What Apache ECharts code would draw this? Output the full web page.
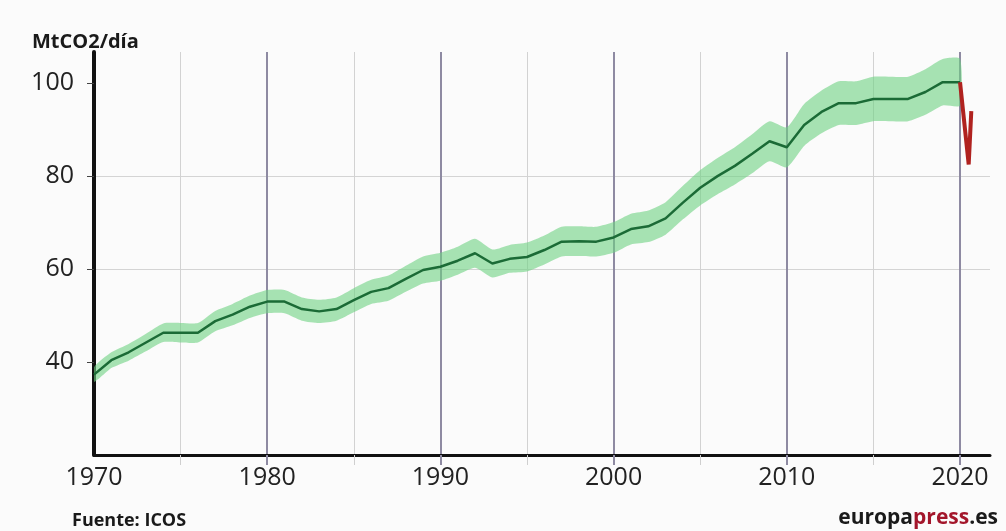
<!DOCTYPE html>
<html>
<head>
<meta charset="utf-8">
<script src="https://cdn.jsdelivr.net/npm/echarts@6/dist/echarts.min.js"></script>
<style>
  html, body { margin: 0; padding: 0; background: #fbfbfb; }
  #chart { width: 1006px; height: 531px; }
</style>
</head>
<body>
<div id="chart"></div>
<script>
// Daily fossil CO2 emissions (MtCO2/day), annual values 1970-2020
const years = [
  1970, 1971, 1972, 1973, 1974, 1975, 1976, 1977, 1978, 1979,
  1980, 1981, 1982, 1983, 1984, 1985, 1986, 1987, 1988, 1989,
  1990, 1991, 1992, 1993, 1994, 1995, 1996, 1997, 1998, 1999,
  2000, 2001, 2002, 2003, 2004, 2005, 2006, 2007, 2008, 2009,
  2010, 2011, 2012, 2013, 2014, 2015, 2016, 2017, 2018, 2019,
  2020
];
const emissions = [
  37.3, 40.4, 42.1, 44.2, 46.3, 46.3, 46.3, 48.8, 50.2, 51.9,
  53.0, 53.0, 51.4, 50.9, 51.4, 53.3, 55.1, 55.9, 57.9, 59.8,
  60.5, 61.8, 63.4, 61.2, 62.2, 62.6, 64.1, 65.9, 66.0, 65.9,
  66.8, 68.6, 69.2, 70.9, 74.3, 77.5, 80.0, 82.2, 84.8, 87.5,
  86.2, 91.0, 93.8, 95.7, 95.7, 96.6, 96.6, 96.6, 98.1, 100.2,
  100.2
];
// Half-width of the uncertainty band around each annual value
const uncertainty = [
  1.6, 1.7, 1.8, 1.9, 2.0, 2.1, 2.1, 2.2, 2.3, 2.4,
  2.5, 2.5, 2.5, 2.5, 2.5, 2.6, 2.6, 2.7, 2.8, 2.9,
  3.0, 3.0, 3.1, 3.0, 3.0, 3.1, 3.1, 3.2, 3.2, 3.2,
  3.3, 3.3, 3.4, 3.5, 3.6, 3.8, 3.9, 4.0, 4.2, 4.3,
  4.3, 4.5, 4.6, 4.7, 4.7, 4.8, 4.8, 4.8, 4.9, 5.0,
  5.0
];
// 2020 drop during the lockdown and partial recovery
const covidYears = [2020.0, 2020.5, 2020.65];
const covidValues = [100.2, 82.5, 94.0];

const yTicks = [40, 60, 80, 100];
const xTicks = [1970, 1980, 1990, 2000, 2010, 2020];

const lineData = years.map((y, i) => [y, emissions[i]]);
const covidData = covidYears.map((y, i) => [y, covidValues[i]]);

const labelFont = { fontFamily: 'Open Sans', fontSize: 25, color: '#222' };
const X_MIN = 1970, X_MAX = 2021.73;

// Uncertainty band: one polygon, upper edge forward then lower edge back
function renderBand(params, api) {
  if (params.dataIndex !== 0) return null;
  const pts = [];
  for (let i = 0; i < years.length; i++) {
    pts.push(api.coord([years[i], emissions[i] + uncertainty[i]]));
  }
  for (let i = years.length - 1; i >= 0; i--) {
    pts.push(api.coord([years[i], emissions[i] - uncertainty[i]]));
  }
  return {
    type: 'polygon',
    shape: { points: pts, smooth: 0.2 },
    style: { fill: 'rgba(110, 210, 130, 0.6)' },
    silent: true
  };
}

const chart = echarts.init(document.getElementById('chart'), null, { renderer: 'canvas' });
chart.setOption({
  backgroundColor: '#fbfbfb',
  animation: false,
  title: [
    {
      text: 'MtCO2/día', left: 27, top: 27,
      textStyle: { fontFamily: 'Open Sans', fontWeight: 'bold', fontSize: 20, color: '#1a1a1a' }
    },
    {
      text: 'Fuente: ICOS', left: 67, top: 507,
      textStyle: { fontFamily: 'Open Sans', fontWeight: 'bold', fontSize: 18, color: '#1a1a1a' }
    },
    {
      text: '{a|europa}{b|press}{a|.es}', right: 3, top: 503,
      textStyle: {
        rich: {
          a: { fontFamily: 'Open Sans', fontWeight: 'bold', fontSize: 21, color: '#1a1a1a' },
          b: { fontFamily: 'Open Sans', fontWeight: 'bold', fontSize: 21, color: '#a3162b' }
        }
      }
    }
  ],
  grid: { left: 94, right: 16, top: 52, bottom: 76, containLabel: false },
  xAxis: [
    {
      // half-decade guide lines
      type: 'value', position: 'bottom', min: X_MIN, max: X_MAX, interval: 5,
      axisLine: { show: false },
      axisLabel: { show: false },
      axisTick: { show: true, length: 10, lineStyle: { color: '#cfcfcf', width: 1 },
                  customValues: [1975, 1985, 1995, 2005, 2015] },
      splitLine: { show: true, lineStyle: { color: '#d2d2d2', width: 1 } }
    },
    {
      // decade lines, labels and axis line
      type: 'value', position: 'bottom', min: X_MIN, max: X_MAX, interval: 10,
      axisLine: { show: true, lineStyle: { color: '#111', width: 3 } },
      axisTick: { show: true, length: 10, lineStyle: { color: '#8e8aa2', width: 2 },
                  customValues: [1980, 1990, 2000, 2010, 2020] },
      axisLabel: Object.assign({ margin: 10, customValues: xTicks,
                  formatter: v => String(Math.round(v)) }, labelFont),
      splitLine: { show: true, lineStyle: { color: '#8e8aa2', width: 2 } }
    }
  ],
  yAxis: {
    type: 'value', min: 20, max: 106.7, interval: 20,
    axisLine: { show: true, lineStyle: { color: '#111', width: 4 } },
    axisTick: { show: true, length: 7, lineStyle: { color: '#444', width: 1 }, customValues: yTicks },
    axisLabel: Object.assign({ margin: 20, customValues: yTicks }, labelFont),
    splitLine: { show: true, showMinLine: false, showMaxLine: false,
                 lineStyle: { color: '#d4d4d4', width: 1 } }
  },
  series: [
    {
      name: 'band', type: 'custom', xAxisIndex: 1, data: lineData,
      encode: { x: 0, y: 1 }, renderItem: renderBand, clip: true, silent: true, z: 1
    },
    {
      name: 'MtCO2/día', type: 'line', xAxisIndex: 1, data: lineData,
      symbol: 'none', lineStyle: { color: '#1b6b36', width: 2.5 }, z: 3
    },
    {
      name: '2020', type: 'line', xAxisIndex: 1, data: covidData,
      symbol: 'none', lineStyle: { color: '#b0221f', width: 4 }, z: 4
    }
  ]
});
</script>
</body>
</html>
